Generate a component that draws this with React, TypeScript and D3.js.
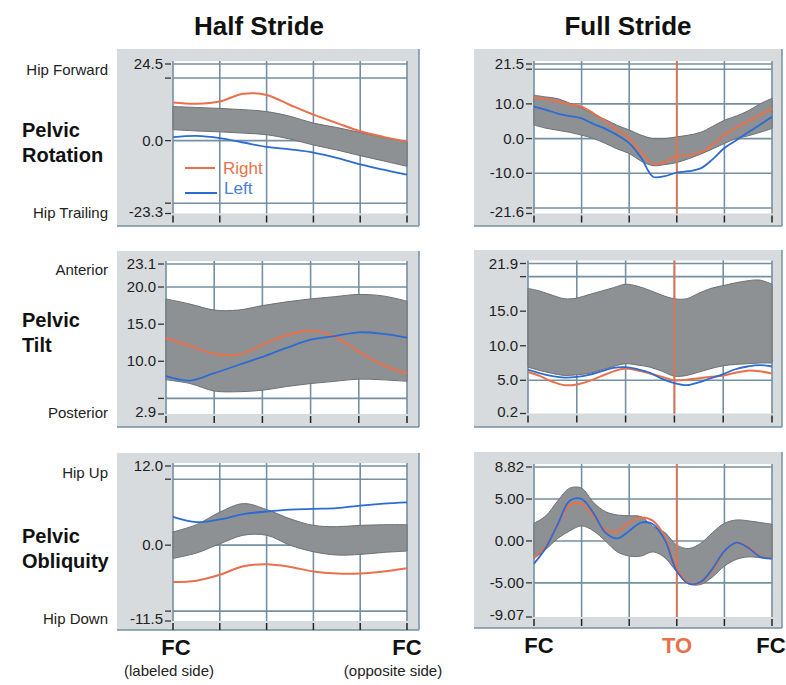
import React from "react";
import * as d3 from "d3";

// percent of cycle
const halfPct = [0, 10, 20, 30, 40, 50, 60, 70, 80, 90, 100];
const fullPct = [0, 5, 10, 15, 20, 25, 30, 35, 40, 45, 50, 55, 60, 65, 70, 75, 80, 85, 90, 95, 100];
const xTickPct = [0, 20, 40, 60, 80, 100];
const toePct = 60;

// Pelvic rotation, half stride
const rotHalfUpper = [10.9, 10.6, 10.3, 9.9, 9.3, 7.8, 5.6, 4.2, 2.6, 1.0, -0.3];
const rotHalfLower = [3.5, 3.1, 2.8, 2.4, 1.9, 0.5, -1.4, -3.0, -4.8, -6.5, -8.2];
const rotHalfRight = [12.2, 11.8, 12.5, 15.0, 14.6, 11.4, 8.3, 5.6, 3.0, 1.2, -0.3];
const rotHalfLeft = [1.1, 1.5, 0.8, -0.6, -2.0, -2.8, -3.8, -5.5, -7.6, -9.3, -10.9];

// Pelvic rotation, full stride
const rotFullUpper = [12.5, 12.0, 11.5, 10.2, 8.9, 7.0, 5.5, 3.8, 2.5, 1.0, 0.0, 0.0, 0.5, 1.0, 1.8, 3.5, 5.3, 6.5, 8.0, 10.0, 11.6];
const rotFullLower = [3.9, 3.0, 2.4, 1.8, 1.0, 0.0, -1.4, -3.0, -4.3, -6.5, -7.8, -7.5, -6.9, -5.8, -4.5, -3.0, -1.4, 0.0, 0.8, 1.8, 2.9];
const rotFullRight = [11.9, 11.3, 10.7, 9.9, 9.2, 7.3, 5.0, 2.5, 0.0, -4.0, -7.3, -6.8, -5.0, -4.8, -4.0, -1.8, 1.0, 3.2, 5.0, 6.8, 8.7];
const rotFullLeft = [9.2, 8.3, 7.2, 6.5, 5.8, 4.2, 2.8, 1.0, -1.3, -5.5, -11.0, -10.8, -9.8, -9.4, -8.6, -6.0, -2.7, -0.5, 1.8, 4.0, 6.3];

// Pelvic tilt, half stride
const tiltHalfUpper = [18.4, 17.7, 16.9, 16.9, 17.5, 18.0, 18.4, 18.7, 19.0, 18.8, 18.1];
const tiltHalfLower = [7.5, 7.0, 6.0, 5.9, 6.1, 6.6, 7.0, 7.3, 7.6, 7.5, 7.3];
const tiltHalfRight = [13.1, 12.1, 11.0, 10.9, 12.2, 13.5, 14.1, 13.3, 11.3, 9.5, 8.4];
const tiltHalfLeft = [8.0, 7.4, 8.4, 9.5, 10.6, 11.8, 12.9, 13.4, 13.9, 13.7, 13.2];

// Pelvic tilt, full stride
const tiltFullUpper = [18.3, 17.9, 17.3, 16.8, 16.9, 17.4, 17.9, 18.4, 18.9, 18.6, 18.0, 17.3, 16.8, 16.8, 17.6, 18.3, 18.7, 19.1, 19.4, 19.5, 18.9];
const tiltFullLower = [6.9, 6.4, 6.0, 5.7, 5.8, 6.0, 6.5, 7.0, 7.4, 7.2, 6.9, 6.3, 5.6, 5.7, 6.2, 6.7, 7.1, 7.3, 7.4, 7.5, 7.5];
const tiltFullRight = [6.2, 5.6, 4.8, 4.3, 4.4, 4.9, 5.6, 6.3, 6.7, 6.4, 6.0, 5.5, 5.0, 5.1, 5.3, 5.5, 5.7, 6.1, 6.4, 6.3, 6.0];
const tiltFullLeft = [6.5, 6.0, 5.6, 5.4, 5.5, 5.8, 6.3, 6.8, 6.9, 6.6, 6.1, 5.2, 4.6, 4.3, 4.7, 5.3, 5.9, 6.6, 7.0, 7.2, 7.0];

// Pelvic obliquity, half stride
const obqHalfUpper = [2.0, 3.1, 5.0, 6.3, 5.4, 4.0, 3.0, 2.8, 3.0, 3.1, 3.1];
const obqHalfLower = [-2.0, -1.2, 0.2, 1.5, 1.5, 0.0, -1.0, -1.5, -1.4, -1.1, -0.9];
const obqHalfRight = [-5.6, -5.4, -4.5, -3.2, -2.9, -3.3, -4.0, -4.3, -4.3, -4.0, -3.5];
const obqHalfLeft = [4.3, 3.5, 3.9, 4.7, 5.1, 5.4, 5.5, 5.6, 6.0, 6.3, 6.5];

// Pelvic obliquity, full stride
const obqFullUpper = [2.1, 3.0, 4.8, 6.3, 6.3, 4.6, 3.5, 3.1, 3.0, 2.9, 1.7, 1.0, -0.5, -0.9, -0.3, 1.0, 2.1, 2.5, 2.4, 2.2, 2.0];
const obqFullLower = [-2.1, -1.0, 0.3, 1.2, 1.8, 1.2, 0.0, -1.3, -1.8, -1.8, -1.3, -2.0, -3.7, -5.1, -5.2, -4.3, -3.0, -2.2, -1.9, -2.0, -2.1];
const obqFullRight = [-2.0, -0.6, 2.0, 4.3, 4.4, 3.0, 1.3, 1.1, 2.2, 2.8, 2.4, 0.5, -3.3, -5.0, -5.0, -3.5, -1.2, -0.2, -0.7, -1.8, -2.1];
const obqFullLeft = [-2.7, -0.8, 2.0, 4.8, 5.0, 3.3, 1.0, 0.3, 1.2, 2.2, 2.0, 0.1, -3.6, -5.1, -4.9, -3.3, -1.2, -0.2, -0.8, -1.9, -2.1];

const ORANGE = "#e8714c";
const BLUE = "#2c6bd3";
const GRID = "#7590a2";
const FRAME = "#d7dbde";
const BAND = "#8e9194";
const FONT = "'Liberation Sans', Arial, Helvetica, sans-serif";

type Panel = {
  full: boolean;
  frame: [number, number, number, number];
  plot: [number, number, number, number];
  domain: [number, number];
  ends: [string, string];
  grid: number[];
  labeled: number[];
  digits: number;
  xs: number[];
  upper: number[];
  lower: number[];
  right: number[];
  left: number[];
};

const panels: Panel[] = [
  { full: false, frame: [117, 49, 419, 226], plot: [173, 64, 407, 213.5], domain: [-23.3, 24.5], ends: ["-23.3", "24.5"], grid: [-20, 0, 20], labeled: [0], digits: 1, xs: halfPct, upper: rotHalfUpper, lower: rotHalfLower, right: rotHalfRight, left: rotHalfLeft },
  { full: true, frame: [474, 49, 782, 226], plot: [534, 64, 772, 213.5], domain: [-21.6, 21.5], ends: ["-21.6", "21.5"], grid: [-20, -10, 0, 10, 20], labeled: [-10, 0, 10], digits: 1, xs: fullPct, upper: rotFullUpper, lower: rotFullLower, right: rotFullRight, left: rotFullLeft },
  { full: false, frame: [117, 251, 419, 427], plot: [166, 264, 407, 414], domain: [2.9, 23.1], ends: ["2.9", "23.1"], grid: [5, 10, 15, 20], labeled: [10, 15, 20], digits: 1, xs: halfPct, upper: tiltHalfUpper, lower: tiltHalfLower, right: tiltHalfRight, left: tiltHalfLeft },
  { full: true, frame: [474, 250, 782, 427], plot: [528, 263.5, 772, 413.5], domain: [0.2, 21.9], ends: ["0.2", "21.9"], grid: [5, 10, 15, 20], labeled: [5, 10, 15], digits: 1, xs: fullPct, upper: tiltFullUpper, lower: tiltFullLower, right: tiltFullRight, left: tiltFullLeft },
  { full: false, frame: [117, 453, 419, 630], plot: [173, 466, 407, 621], domain: [-11.5, 12.0], ends: ["-11.5", "12.0"], grid: [-10, 0, 10], labeled: [0], digits: 1, xs: halfPct, upper: obqHalfUpper, lower: obqHalfLower, right: obqHalfRight, left: obqHalfLeft },
  { full: true, frame: [474, 452, 782, 628], plot: [534, 467, 772, 617], domain: [-9.07, 8.82], ends: ["-9.07", "8.82"], grid: [-5, 0, 5], labeled: [-5, 0, 5], digits: 2, xs: fullPct, upper: obqFullUpper, lower: obqFullLower, right: obqFullRight, left: obqFullLeft },
];

const rowLabels = [
  { lines: ["Pelvic", "Rotation"], y: 137, top: "Hip Forward", bottom: "Hip Trailing", topY: 75, bottomY: 218 },
  { lines: ["Pelvic", "Tilt"], y: 327, top: "Anterior", bottom: "Posterior", topY: 275, bottomY: 418 },
  { lines: ["Pelvic", "Obliquity"], y: 543, top: "Hip Up", bottom: "Hip Down", topY: 478, bottomY: 624 },
];

const PanelView = ({ p }: { p: Panel }) => {
  const [px0, py0, px1, py1] = p.plot;
  const [fx0, fy0, fx1, fy1] = p.frame;
  const x = d3.scaleLinear().domain([0, 100]).range([px0, px1]);
  const y = d3.scaleLinear().domain(p.domain).range([py1, py0]);
  const curve = d3.curveCatmullRom.alpha(0.5);
  const band = d3
    .area<number>()
    .x((_, i) => x(p.xs[i]))
    .y0((_, i) => y(p.lower[i]))
    .y1((d) => y(d))
    .curve(curve);
  const line = d3
    .line<number>()
    .x((_, i) => x(p.xs[i]))
    .y((d) => y(d))
    .curve(curve);
  const tickVals = [p.domain[0], ...p.grid, p.domain[1]];
  return (
    <g>
      <rect x={fx0} y={fy0} width={fx1 - fx0} height={fy1 - fy0} fill={FRAME} />
      <line x1={fx1} x2={fx1} y1={fy0} y2={fy1} stroke={GRID} strokeWidth={1.5} />
      <line x1={fx0} x2={fx1} y1={fy1} y2={fy1} stroke={GRID} strokeWidth={1.5} />
      <rect x={px0} y={py0 - 3} width={px1 - px0} height={py1 - py0 + 3} fill="#fff" />
      {[p.domain[1], ...p.grid].map((v) => (
        <line key={"h" + v} x1={px0} x2={px1} y1={y(v)} y2={y(v)} stroke={GRID} strokeWidth={1.6} />
      ))}
      {xTickPct.map((v) => (
        <line key={"v" + v} x1={x(v)} x2={x(v)} y1={py0 - 3} y2={py1} stroke={GRID} strokeWidth={1.6} />
      ))}
      <path d={band(p.upper) || ""} fill={BAND} stroke="#6d7074" strokeWidth={1} />
      {p.full && (
        <line x1={x(toePct)} x2={x(toePct)} y1={py0 - 3} y2={py1} stroke={ORANGE} strokeWidth={2} opacity={0.85} />
      )}
      <path d={line(p.right) || ""} fill="none" stroke={ORANGE} strokeWidth={2} />
      <path d={line(p.left) || ""} fill="none" stroke={BLUE} strokeWidth={1.8} />
      {tickVals.map((v) => (
        <line key={"t" + v} x1={px0 - 8} x2={px0 - 2} y1={y(v)} y2={y(v)} stroke="#333" strokeWidth={1.3} />
      ))}
      {xTickPct.map((v) => (
        <line key={"b" + v} x1={x(v)} x2={x(v)} y1={py1 + 2} y2={py1 + 9} stroke="#222" strokeWidth={1.5} />
      ))}
      <g fontFamily={FONT} fontSize={15} fill="#222" textAnchor="end">
        <text x={px0 - 10} y={y(p.domain[1]) + 5}>{p.ends[1]}</text>
        <text x={px0 - 10} y={y(p.domain[0]) + 3}>{p.ends[0]}</text>
        {p.labeled.map((v) => (
          <text key={"l" + v} x={px0 - 10} y={y(v) + 5}>
            {v.toFixed(p.digits)}
          </text>
        ))}
      </g>
    </g>
  );
};

const App = () => {
  return (
    <svg width={786} height={685} style={{ position: "absolute", left: 0, top: 0, background: "#fff" }}>
      <g fontFamily={FONT} fontWeight="bold" fontSize={26} fill="#111" textAnchor="middle">
        <text x={259} y={35}>Half Stride</text>
        <text x={628} y={35}>Full Stride</text>
      </g>
      {panels.map((p, i) => (
        <PanelView key={i} p={p} />
      ))}
      {rowLabels.map((r) => (
        <g key={r.top} fontFamily={FONT}>
          <text x={22} y={r.y} fontSize={20} fontWeight="bold" fill="#111">
            {r.lines[0]}
          </text>
          <text x={22} y={r.y + 25} fontSize={20} fontWeight="bold" fill="#111">
            {r.lines[1]}
          </text>
          <text x={108} y={r.topY} fontSize={15} fill="#222" textAnchor="end">
            {r.top}
          </text>
          <text x={108} y={r.bottomY} fontSize={15} fill="#222" textAnchor="end">
            {r.bottom}
          </text>
        </g>
      ))}
      {/* legend */}
      <g fontFamily={FONT} fontSize={17}>
        <line x1={185} x2={215} y1={168} y2={168} stroke={ORANGE} strokeWidth={2} />
        <text x={223} y={174} fill={ORANGE}>Right</text>
        <line x1={185} x2={217} y1={193} y2={193} stroke={BLUE} strokeWidth={2} />
        <text x={224} y={194} fill="#4a7fd6">Left</text>
      </g>
      {/* event labels */}
      <g fontFamily={FONT} textAnchor="middle">
        <text x={176} y={655} fontSize={22} fontWeight="bold" fill="#111">FC</text>
        <text x={169} y={676} fontSize={15} fill="#222">(labeled side)</text>
        <text x={407} y={655} fontSize={22} fontWeight="bold" fill="#111">FC</text>
        <text x={393} y={676} fontSize={15} fill="#222">(opposite side)</text>
        <text x={539} y={653} fontSize={22} fontWeight="bold" fill="#111">FC</text>
        <text x={677} y={653} fontSize={22} fontWeight="bold" fill={ORANGE}>TO</text>
        <text x={771} y={653} fontSize={22} fontWeight="bold" fill="#111">FC</text>
      </g>
    </svg>
  );
};

export default App;
